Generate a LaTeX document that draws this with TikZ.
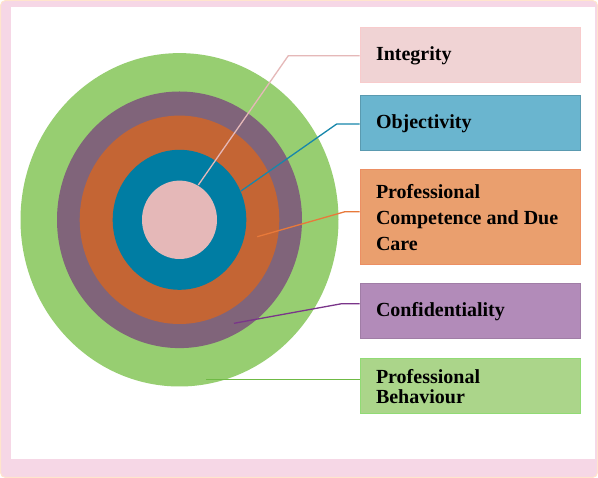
\documentclass[tikz,border=0pt]{standalone}
\usepackage{fontspec}
\setmainfont{Liberation Serif}
\usetikzlibrary{calc}
\tikzset{
  every node/.style={font=\bfseries\fontsize{20}{26}\selectfont},
  valuebox/.style={draw, line width=1pt, minimum width=220, minimum height=55,
    text width=188, inner xsep=16, inner ysep=4, align=flush left},
  leader/.style={line width=1.3pt}
}

\begin{document}
\begin{tikzpicture}[x=1pt, y=-1pt]
  % Fixed frame (pixel grid, y down)
  \path[use as bounding box] (0,0) rectangle (598,478);

  % Colours of the rings and boxes.
  \definecolor{framecol}{HTML}{F6D7E6}
  \definecolor{ringgreen}{HTML}{97CE71}
  \definecolor{ringpurple}{HTML}{80647A}
  \definecolor{ringorange}{HTML}{C46534}
  \definecolor{ringteal}{HTML}{007DA3}
  \definecolor{ringpink}{HTML}{E5B8B8}
  \definecolor{boxpink}{HTML}{F0D3D4}
  \definecolor{boxteal}{HTML}{6AB5CF}
  \definecolor{boxorange}{HTML}{EA9F6E}
  \definecolor{boxpurple}{HTML}{B28BB9}
  \definecolor{boxgreen}{HTML}{ABD58A}
  \definecolor{leadorange}{HTML}{E8793A}
  \definecolor{leadpurple}{HTML}{7A358A}
  \definecolor{leadgreen}{HTML}{6FBA45}
  \definecolor{leadteal}{HTML}{1787AB}

  % Page frame.
  \fill[framecol, draw=orange!20, line width=1pt, rounded corners=5pt] (0.5,0.5) rectangle (597.5,477.5);
  \fill[white] (11,7) rectangle (595,459);

  % Concentric rings.
  \coordinate (C) at (179.5,219.8);
  \fill[ringgreen]  (C) ellipse (159 and 166.7);
  \fill[ringpurple] (C) ellipse (122.5 and 128.3);
  \fill[ringorange] (C) ellipse (99.8 and 104.2);
  \fill[ringteal]   (C) ellipse (66.8 and 70);
  \fill[ringpink]   (C) ellipse (37.5 and 39.2);

  % Boxes.
  \node[valuebox, draw=boxpink!80!red!60!white, fill=boxpink] (integ) at (470,55.5) {Integrity};
  \node[valuebox, draw=boxteal!85!black, fill=boxteal] (objec) at (470,123.5) {Objectivity};
  \node[valuebox, draw=boxorange!90!red, fill=boxorange, minimum height=95] (compet) at (470,217.5)
    {Professional\\Competence and Due\\Care};
  \node[valuebox, draw=boxpurple!90!black, fill=boxpurple] (confid) at (470,311.5) {Confidentiality};
  \node[valuebox, draw=boxgreen!85!green, fill=boxgreen,
    font=\bfseries\fontsize{20}{20}\selectfont] (behav) at (470,386.5) {Professional\\Behaviour};

  % Leader lines ends and bends.
  \coordinate (integTip) at (198.3,185);
  \coordinate (integBend) at (288.3,55.7);
  \coordinate (objecTip) at (241,191);
  \coordinate (objecBend) at (336.7,124);
  \coordinate (competTip) at (257.3,236.7);
  \coordinate (competBend) at (345,211.7);
  \coordinate (confidTip) at (234,323.3);
  \coordinate (confidBend) at (341.7,303.7);
  \coordinate (behavTip) at (206,379.3);

  \draw[leader, ringpink] (integTip) -- (integBend) -- (integBend -| integ.west);
  \draw[leader, leadteal] (objecTip) -- (objecBend) -- (objecBend -| objec.west);
  \draw[leader, leadorange] (competTip) -- (competBend) -- (competBend -| compet.west);
  \draw[leader, leadpurple] (confidTip) -- (confidBend) -- (confidBend -| confid.west);
  \draw[leader, leadgreen, line width=1.5pt] (behavTip) -- (behavTip -| behav.west);
\end{tikzpicture}
\end{document}
